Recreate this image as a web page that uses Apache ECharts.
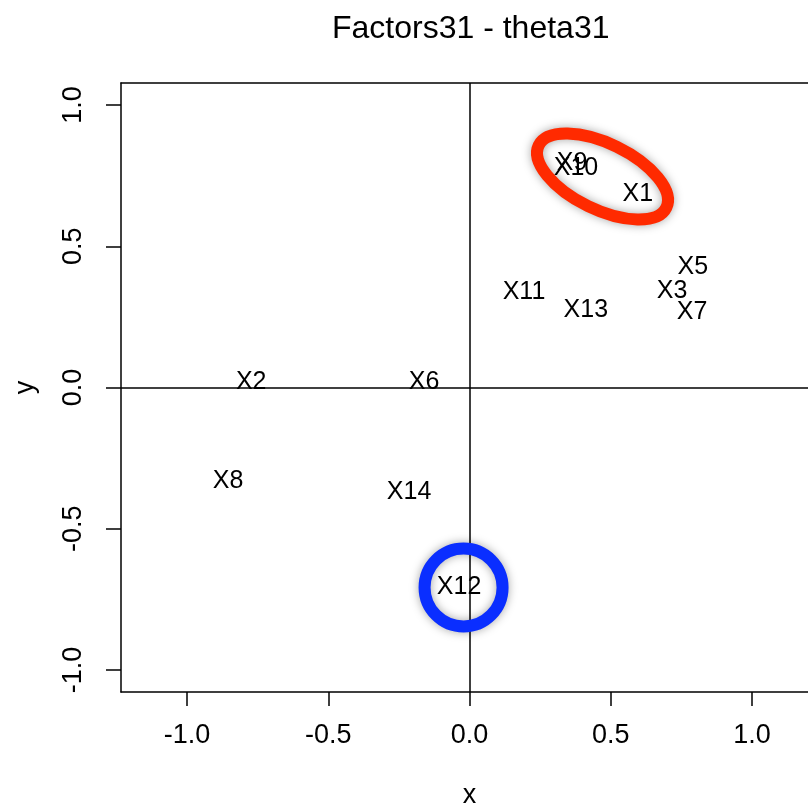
<!DOCTYPE html>
<html>
<head>
<meta charset="utf-8">
<script src="https://cdn.jsdelivr.net/npm/echarts@6/dist/echarts.min.js"></script>
<style>
  html, body { margin: 0; padding: 0; background: #fff; }
  #chart { width: 808px; height: 803px; }
</style>
</head>
<body>
<div id="chart"></div>
<script>
// Variable labels and their loadings on the two factors
const names = ['X1', 'X2', 'X3', 'X5', 'X6', 'X7', 'X8', 'X9', 'X10', 'X11', 'X12', 'X13', 'X14'];
const xValues = [0.596, -0.773, 0.717, 0.791, -0.161, 0.788, -0.855, 0.363, 0.377, 0.193, -0.037, 0.412, -0.214];
const yValues = [0.685, 0.019, 0.342, 0.427, 0.019, 0.267, -0.331, 0.793, 0.775, 0.338, -0.706, 0.274, -0.370];
const tickValues = [-1.0, -0.5, 0.0, 0.5, 1.0];

// Highlight marks (centres in data units)
const redRingCenter = [0.471, 0.747];
const blueRingCenter = [-0.021, -0.708];

const FONT = '"Liberation Sans", Arial, Helvetica, sans-serif';

const points = names.map((n, i) => ({ name: n, value: [xValues[i], yValues[i]] }));

const chart = echarts.init(document.getElementById('chart'), null, { renderer: 'canvas' });

const axisLineStyle = { color: '#000', width: 1.5 };

chart.setOption({
  backgroundColor: '#ffffff',
  animation: false,
  title: {
    text: 'Factors31 - theta31',
    left: 327,
    top: 8,
    textStyle: { fontFamily: FONT, fontSize: 32, fontWeight: 'normal', color: '#000' }
  },
  grid: {
    left: 121, top: 83, bottom: 111, right: -10,
    outerBoundsMode: 'none',
    containLabel: false,
    show: false
  },
  xAxis: [{
    type: 'value',
    min: -1.234, max: 1.234,
    name: 'x',
    nameLocation: 'middle',
    nameGap: 90,
    nameTextStyle: { fontFamily: FONT, fontSize: 27, color: '#000' },
    axisLine: { show: true, onZero: false, lineStyle: axisLineStyle },
    axisTick: { show: true, inside: false, length: 14, customValues: tickValues, lineStyle: axisLineStyle },
    axisLabel: {
      customValues: tickValues, margin: 30,
      formatter: v => v.toFixed(1),
      fontFamily: FONT, fontSize: 27, color: '#000'
    },
    splitLine: { show: false }
  }, {
    // top edge of the plot frame
    type: 'value',
    position: 'top',
    min: -1.234, max: 1.234,
    axisLine: { show: true, onZero: false, lineStyle: axisLineStyle },
    axisTick: { show: false },
    axisLabel: { show: false },
    splitLine: { show: false }
  }],
  yAxis: {
    type: 'value',
    min: -1.078, max: 1.078,
    name: 'y',
    nameLocation: 'middle',
    nameGap: 82,
    nameRotate: 90,
    nameTextStyle: { fontFamily: FONT, fontSize: 27, color: '#000' },
    axisLine: { show: true, onZero: false, lineStyle: axisLineStyle },
    axisTick: { show: true, inside: false, length: 15, customValues: tickValues, lineStyle: axisLineStyle },
    axisLabel: {
      customValues: tickValues, margin: 34, rotate: 90,
      formatter: v => v.toFixed(1),
      fontFamily: FONT, fontSize: 27, color: '#000'
    },
    splitLine: { show: false }
  },
  series: [{
    type: 'scatter',
    data: points,
    symbolSize: 0,
    itemStyle: { color: '#000', opacity: 1 },
    label: {
      show: true,
      position: 'inside',
      formatter: p => p.name,
      fontFamily: FONT, fontSize: 25, color: '#000',
      textBorderWidth: 0
    },
    markLine: {
      silent: true,
      symbol: 'none',
      label: { show: false },
      lineStyle: { color: '#000', width: 1.5, type: 'solid', opacity: 1 },
      data: [{ xAxis: 0 }, { yAxis: 0 }]
    },
    z: 3
  }]
});

// Ring annotations placed from data coordinates
const redC = chart.convertToPixel({ gridIndex: 0 }, redRingCenter);
const blueC = chart.convertToPixel({ gridIndex: 0 }, blueRingCenter);
const ringShadow = { shadowBlur: 10, shadowColor: 'rgba(0,0,0,0.35)' };

chart.setOption({
  graphic: [
    {
      type: 'ellipse',
      x: redC[0], y: redC[1],
      rotation: -26 * Math.PI / 180,
      shape: { cx: 0, cy: 0, rx: 71, ry: 33 },
      style: Object.assign({ fill: 'none', stroke: '#FF2A00', lineWidth: 12 }, ringShadow),
      z: 10
    },
    {
      type: 'circle',
      x: blueC[0], y: blueC[1],
      shape: { cx: 0, cy: 0, r: 39 },
      style: Object.assign({ fill: 'none', stroke: '#0A2EFF', lineWidth: 12 }, ringShadow),
      z: 10
    }
  ]
});
</script>
</body>
</html>
